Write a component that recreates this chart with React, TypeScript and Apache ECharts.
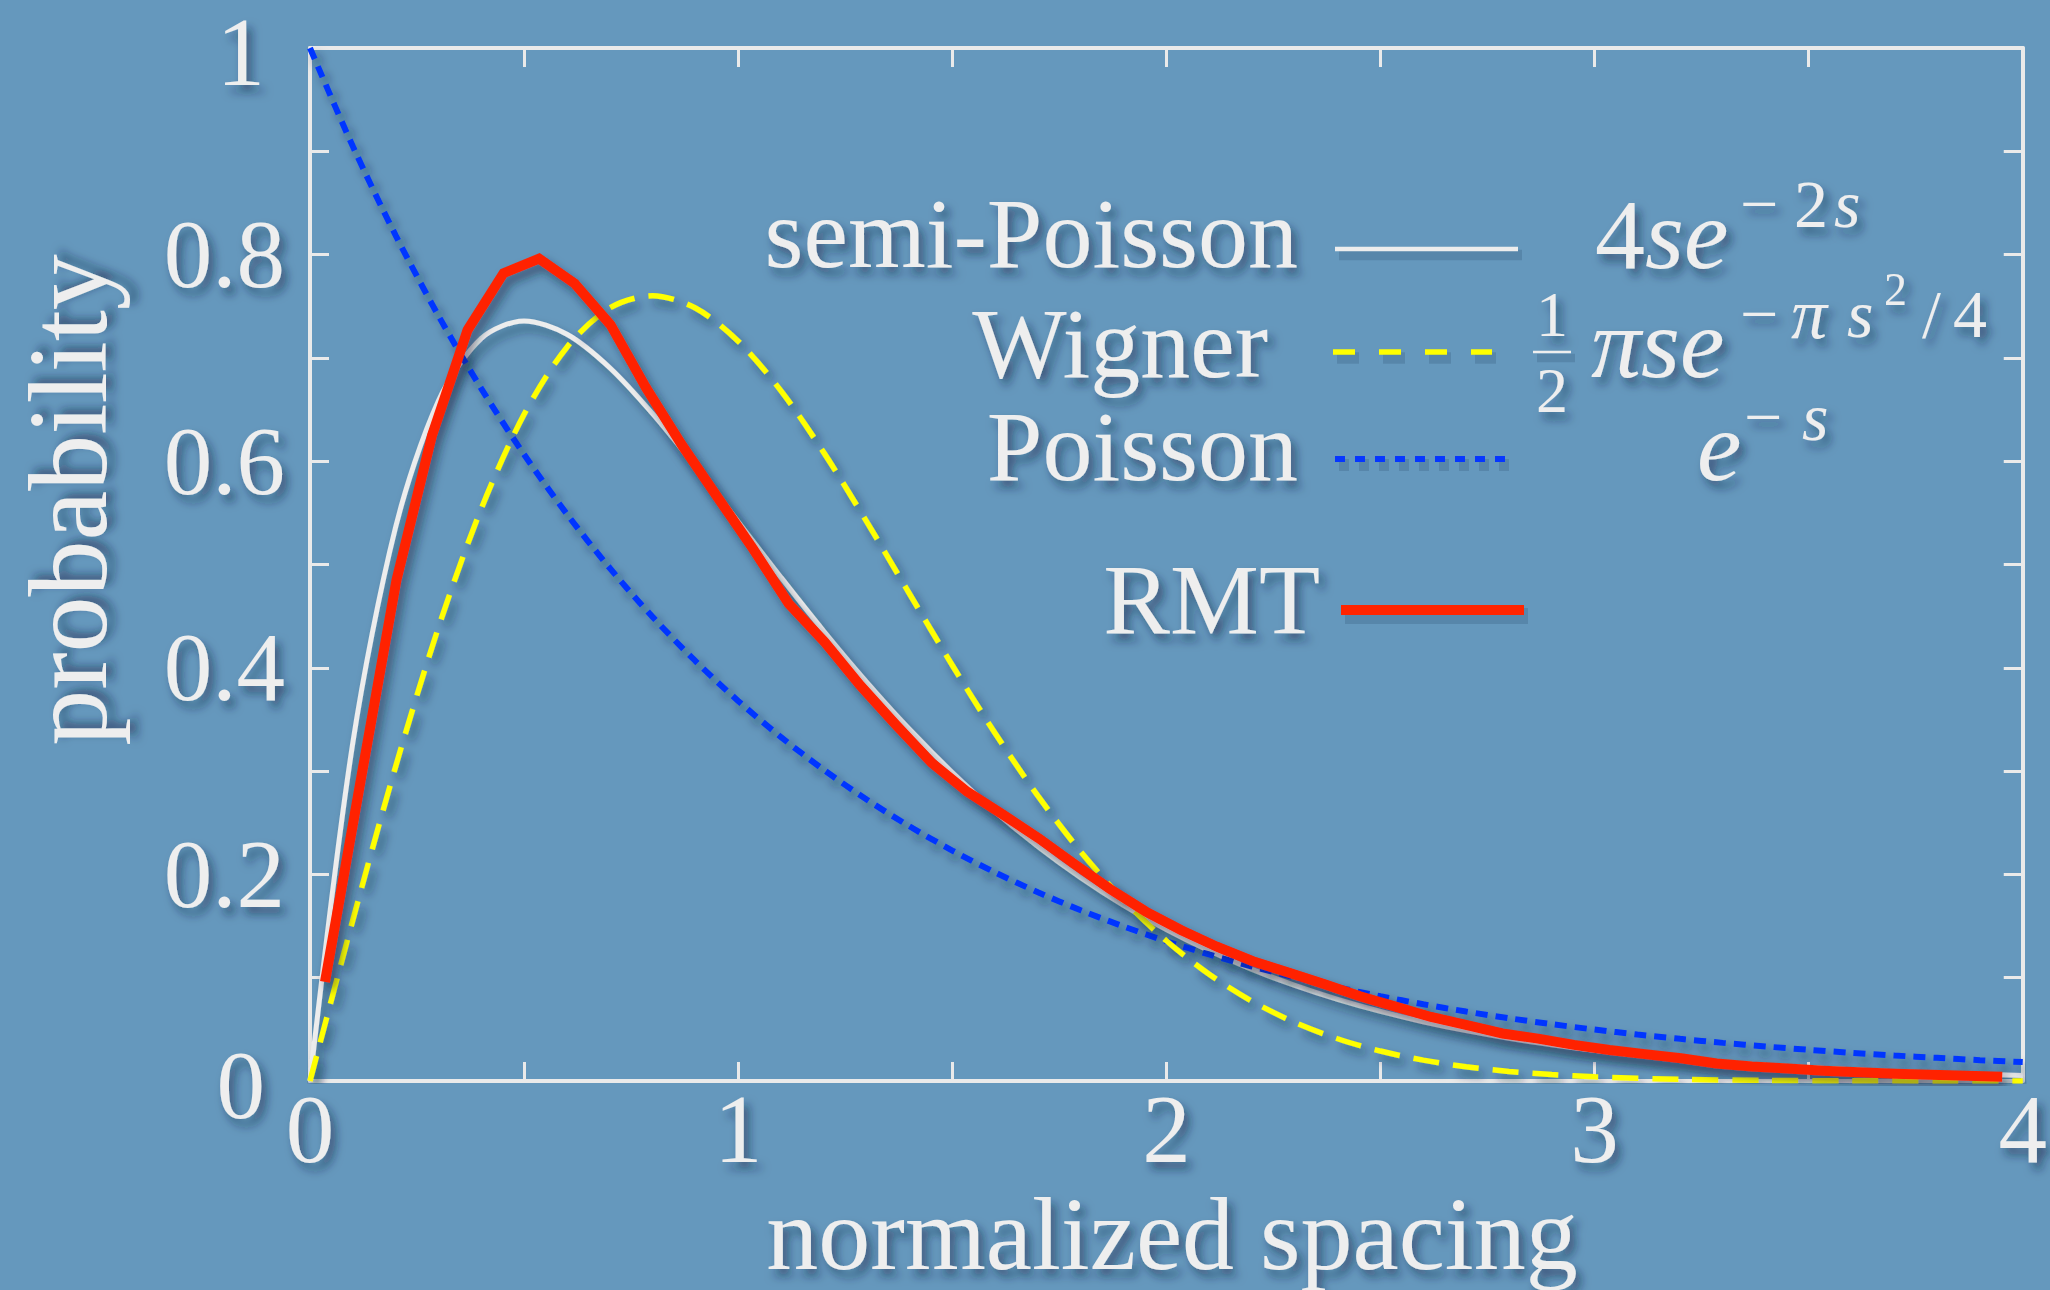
import { useEffect, useRef } from 'react';
import * as echarts from 'echarts';

// ---------- data ----------
const S_GRID = [0, 0.1, 0.2, 0.3, 0.4, 0.5, 0.6, 0.7, 0.8, 0.9, 1.0, 1.1, 1.2, 1.3, 1.4, 1.5, 1.6, 1.7, 1.8, 1.9, 2.0,
  2.1, 2.2, 2.3, 2.4, 2.5, 2.6, 2.7, 2.8, 2.9, 3.0, 3.1, 3.2, 3.3, 3.4, 3.5, 3.6, 3.7, 3.8, 3.9, 4.0];

const SEMI_POISSON = [0, 0.3275, 0.5363, 0.6586, 0.7189, 0.7358, 0.7229, 0.6905, 0.646, 0.5951, 0.5413,
  0.4875, 0.4354, 0.3862, 0.3405, 0.2987, 0.2609, 0.227, 0.1968, 0.17, 0.1465,
  0.126, 0.1081, 0.0925, 0.079, 0.0674, 0.0574, 0.0488, 0.0414, 0.0351, 0.0297,
  0.0252, 0.0213, 0.018, 0.0152, 0.0128, 0.0108, 0.009, 0.0076, 0.0064, 0.0054];

const POISSON = [1, 0.9048, 0.8187, 0.7408, 0.6703, 0.6065, 0.5488, 0.4966, 0.4493, 0.4066, 0.3679,
  0.3329, 0.3012, 0.2725, 0.2466, 0.2231, 0.2019, 0.1827, 0.1653, 0.1496, 0.1353,
  0.1225, 0.1108, 0.1003, 0.0907, 0.0821, 0.0743, 0.0672, 0.0608, 0.055, 0.0498,
  0.045, 0.0408, 0.0369, 0.0334, 0.0302, 0.0273, 0.0247, 0.0224, 0.0202, 0.0183];

const WIGNER_S = [0, 0.1, 0.2, 0.3, 0.4, 0.5, 0.6, 0.7, 0.8, 0.9, 1.0, 1.1, 1.2, 1.3, 1.4, 1.5, 1.6, 1.7, 1.8, 1.9, 2.0,
  2.1, 2.2, 2.3, 2.4, 2.5, 2.6, 2.7, 2.8, 2.9, 3.0, 3.2, 3.4, 3.6, 3.8, 4.0];
const WIGNER = [0, 0.1559, 0.3044, 0.4391, 0.5541, 0.6454, 0.7104, 0.7483, 0.7602, 0.7483, 0.7162,
  0.6681, 0.6083, 0.5415, 0.4717, 0.4025, 0.3366, 0.276, 0.222, 0.1752, 0.1358,
  0.1033, 0.0772, 0.0567, 0.0409, 0.029, 0.0202, 0.0138, 0.0093, 0.0062, 0.004,
  0.0016, 0.0006, 0.0002, 0.0001, 0];

const RMT_S = [0.035, 0.118, 0.202, 0.285, 0.368, 0.452, 0.535, 0.618, 0.702, 0.785, 0.868, 0.952,
  1.035, 1.118, 1.202, 1.285, 1.368, 1.452, 1.535, 1.618, 1.702, 1.785, 1.868, 1.952,
  2.035, 2.118, 2.202, 2.285, 2.368, 2.452, 2.535, 2.618, 2.702, 2.785, 2.868, 2.952,
  3.035, 3.118, 3.202, 3.285, 3.368, 3.452, 3.535, 3.618, 3.702, 3.785, 3.868, 3.952];
const RMT = [0.096, 0.29, 0.485, 0.625, 0.727, 0.782, 0.796, 0.772, 0.732, 0.671, 0.616, 0.565,
  0.515, 0.462, 0.425, 0.383, 0.345, 0.308, 0.28, 0.258, 0.235, 0.21, 0.186, 0.164,
  0.146, 0.13, 0.116, 0.105, 0.094, 0.082, 0.072, 0.062, 0.054, 0.046, 0.041, 0.035,
  0.03, 0.026, 0.022, 0.017, 0.014, 0.012, 0.01, 0.0085, 0.007, 0.006, 0.005, 0.004];

const X_LABELS = ['0', '1', '2', '3', '4'];
const Y_LABELS = ['0', '0.2', '0.4', '0.6', '0.8', '1'];

const X_TITLE = 'normalized spacing';
const Y_TITLE = 'probability';

// ---------- styles ----------
const FONT = "'Liberation Serif', 'Times New Roman', serif";
const TXT = '#eeeeee';
const BG = '#6598bd';
const FRAME = '#eaeaea';
const TSH = {
  textShadowColor: 'rgba(15,35,60,0.55)',
  textShadowBlur: 10,
  textShadowOffsetX: 5,
  textShadowOffsetY: 7,
};
const LSH = {
  shadowColor: 'rgba(10,30,55,0.5)',
  shadowBlur: 10,
  shadowOffsetX: 5,
  shadowOffsetY: 7,
};
const FAKE_SHADOW = 'rgba(20,45,75,0.16)';

const pairs = (xs: number[], ys: number[]) => xs.map((x, i) => [x, ys[i]]);

function txt(text: string, x: number, y: number, size: number, opts: any = {}) {
  return {
    type: 'text',
    x,
    y,
    z: 100,
    rotation: opts.rotation || 0,
    style: {
      text,
      fill: TXT,
      fontSize: size,
      fontFamily: FONT,
      fontStyle: opts.italic ? 'italic' : 'normal',
      textAlign: opts.align || 'left',
      textVerticalAlign: 'middle',
      ...TSH,
    },
  };
}

// horizontal segment + an offset translucent copy standing in for its drop shadow
function seg(x1: number, y: number, x2: number, stroke: string, lineWidth: number, lineDash?: number[]) {
  return [
    {
      type: 'line',
      z: 99,
      shape: { x1: x1 + 4, y1: y + 6, x2: x2 + 4, y2: y + 6 },
      style: { stroke: FAKE_SHADOW, lineWidth: lineWidth + 6, lineDash: lineDash || null },
    },
    {
      type: 'line',
      z: 100,
      shape: { x1, y1: y, x2, y2: y },
      style: { stroke, lineWidth, lineDash: lineDash || null },
    },
  ];
}

export default function App() {
  const ref = useRef<HTMLDivElement>(null);

  useEffect(() => {
    if (!ref.current) return;
    const chart = echarts.init(ref.current, undefined, { renderer: 'svg' });

    const labelBase = {
      color: TXT,
      fontFamily: FONT,
      fontSize: 97,
      ...TSH,
    };

    const xAxisCommon = {
      type: 'value',
      min: 0,
      max: 4,
      interval: 0.5,
      splitLine: { show: false },
      axisLine: { show: true, onZero: false, lineStyle: { color: FRAME, width: 4 } },
      axisTick: { show: true, inside: true, length: 19, lineStyle: { color: FRAME, width: 3 } },
    };
    const yAxisCommon = {
      type: 'value',
      min: 0,
      max: 1,
      interval: 0.1,
      splitLine: { show: false },
      axisLine: { show: true, onZero: false, lineStyle: { color: FRAME, width: 4 } },
      axisTick: { show: true, inside: true, length: 19, lineStyle: { color: FRAME, width: 3 } },
    };

    const option: any = {
      animation: false,
      backgroundColor: BG,
      grid: { left: 310, top: 48, width: 1717, height: 1033, containLabel: false },
      xAxis: [
        {
          ...xAxisCommon,
          position: 'bottom',
          axisLabel: {
            ...labelBase,
            margin: 0,
            showMinLabel: true,
            showMaxLabel: true,
            formatter: (v: number) => (Math.abs(v - Math.round(v)) < 1e-6 ? X_LABELS[Math.round(v)] : ''),
          },
        },
        { ...xAxisCommon, position: 'top', axisLabel: { show: false } },
      ],
      yAxis: [
        {
          ...yAxisCommon,
          position: 'left',
          axisLabel: {
            ...labelBase,
            margin: 25,
            showMinLabel: true,
            showMaxLabel: true,
            formatter: (v: number) => {
              const r = Math.round(v * 10);
              if (r % 2 !== 0) return '';
              const lab = Y_LABELS[r / 2];
              if (r === 0 || r === 10) return `{p|${lab}}`;
              return lab;
            },
            rich: {
              p: { ...labelBase, padding: [8, 20, 0, 0] },
            },
          },
        },
        { ...yAxisCommon, position: 'right', axisLabel: { show: false } },
      ],
      series: [
        {
          name: 'semi-Poisson',
          type: 'line',
          data: pairs(S_GRID, SEMI_POISSON),
          smooth: 0.3,
          symbol: 'none',
          lineStyle: { color: '#ededed', width: 5, ...LSH },
          z: 2,
        },
        {
          name: 'Poisson',
          type: 'line',
          data: pairs(S_GRID, POISSON),
          smooth: 0.3,
          symbol: 'none',
          lineStyle: { color: '#0636ff', width: 6, type: [12, 8], ...LSH },
          z: 3,
        },
        {
          name: 'Wigner',
          type: 'line',
          data: pairs(WIGNER_S, WIGNER),
          smooth: 0.3,
          symbol: 'none',
          lineStyle: { color: '#ffff00', width: 5.5, type: [26, 14], ...LSH },
          z: 4,
        },
        {
          name: 'RMT',
          type: 'line',
          data: pairs(RMT_S, RMT),
          smooth: false,
          symbol: 'none',
          lineStyle: { color: '#ff2400', width: 10, join: 'miter', ...LSH },
          z: 5,
        },
      ],
      graphic: [
        // axis titles
        txt(X_TITLE, 1172, 1233, 104, { align: 'center' }),
        txt(Y_TITLE, 68, 500, 112, { align: 'center', rotation: Math.PI / 2 }),

        // semi-Poisson row
        txt('semi-Poisson', 1298, 233, 100, { align: 'right' }),
        ...seg(1335, 249, 1518, '#ededed', 4.5),
        txt('4', 1595, 234, 100),
        txt('se', 1645, 234, 100, { italic: true }),
        txt('\u2212', 1740, 204, 68),
        txt('2', 1794, 204, 68),
        txt('s', 1834, 204, 68, { italic: true }),

        // Wigner row
        txt('Wigner', 1268, 343, 100, { align: 'right' }),
        ...seg(1333, 352, 1492, '#ffff00', 5.5, [22, 24]),
        txt('1', 1552, 314, 64, { align: 'center' }),
        ...seg(1533, 352, 1571, TXT, 2.5),
        txt('2', 1552, 390, 64, { align: 'center' }),
        txt('\u03c0se', 1591, 343, 100, { italic: true }),
        txt('\u2212', 1740, 314, 68),
        txt('\u03c0', 1791, 314, 72, { italic: true }),
        txt('s', 1847, 314, 68, { italic: true }),
        txt('2', 1884, 289, 46),
        txt('/', 1922, 314, 68),
        txt('4', 1953, 314, 68),

        // Poisson row
        txt('Poisson', 1298, 446, 100, { align: 'right' }),
        ...seg(1335, 459, 1509, '#0636ff', 6, [10, 10]),
        txt('e', 1697, 446, 100, { italic: true }),
        txt('\u2212', 1744, 417, 68),
        txt('s', 1802, 417, 68, { italic: true }),

        // RMT row
        txt('RMT', 1320, 599, 100, { align: 'right' }),
        ...seg(1341, 610, 1524, '#ff2400', 10),
      ],
    };

    chart.setOption(option);
    return () => chart.dispose();
  }, []);

  return (
    <div
      ref={ref}
      style={{ position: 'fixed', left: 0, top: 0, width: 2050, height: 1290 }}
    />
  );
}
